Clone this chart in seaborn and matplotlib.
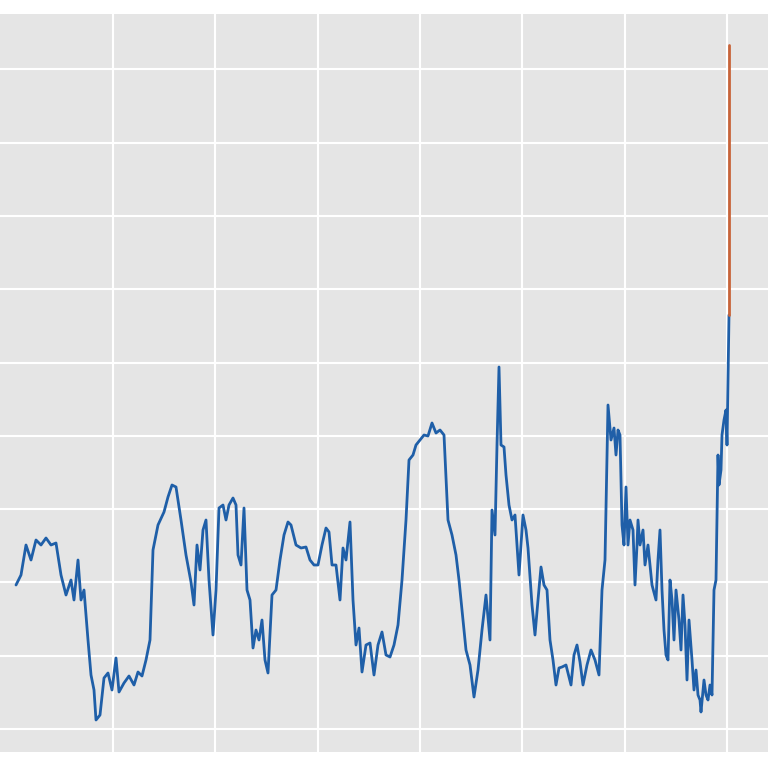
import matplotlib
matplotlib.use("Agg")
import matplotlib.pyplot as plt
import seaborn as sns
import pandas as pd

# traced series as (x_pixel_pos, y_pixel_pos) pairs
trace = [(0,585),(5,575),(10,545),(15,560),(20,540),(25,545),(30,538),(35,545),(40,543),(45,575),
(50,595),(55,580),(58,600),(62,560),(65,600),(68,590),(72,640),(75,675),(78,690),(80,720),
(84,715),(88,678),(92,673),(96,690),(100,658),(103,692),(108,683),(113,676),(118,685),(122,672),
(126,676),(130,660),(134,640),(137,550),(142,525),(148,512),(152,497),(156,485),(160,487),(165,520),
(170,555),(175,582),(178,605),(181,545),(184,570),(187,530),(190,520),(193,580),(197,635),(200,590),
(203,508),(207,505),(210,520),(213,505),(217,498),(220,505),(222,555),(225,565),(228,508),(231,590),
(234,600),(237,648),(240,630),(243,640),(246,620),(249,660),(252,673),(256,595),(260,590),(264,560),
(268,535),(272,522),(275,525),(280,545),(285,548),(290,547),(294,560),(298,565),(302,565),(306,545),
(310,528),(313,532),(316,565),(320,565),(324,600),(327,548),(330,560),(334,522),(337,600),(340,645),
(343,628),(346,672),(350,645),(354,643),(358,675),(362,645),(366,632),(370,655),(374,657),(378,645),
(382,625),(386,580),(390,520),(393,460),(397,455),(400,445),(404,440),(408,435),(412,436),(416,423),
(420,433),(424,430),(428,435),(432,520),(436,535),(440,555),(443,580),(446,610),(450,650),(454,665),
(458,697),(462,670),(466,630),(470,595),(474,640),(476,510),(479,535),(481,445),(483,367),(485,445),
(488,447),(490,475),(493,505),(496,520),(499,515),(503,575),(507,515),(510,530),(512,548),(516,605),
(519,635),(522,600),(525,567),(528,585),(531,590),(534,640),(537,660),(540,685),(543,668),(546,667),
(550,665),(555,685),(558,655),(561,645),(564,662),(567,685),(571,665),(575,650),(579,660),(583,675),
(586,590),(589,560),(592,405),(595,440),(598,428),(600,455),(602,430),(604,435),(606,525),(608,545),
(610,487),(612,545),(614,520),(617,530),(619,585),(621,545),(622,520),(624,545),(627,530),(629,565),
(632,545),(636,585),(640,600),(642,560),(644,530),(646,590),(648,630),(650,655),(652,660),(654,580),
(656,600),(658,640),(660,590),(663,620),(665,650),(667,595),(669,625),(671,680),(673,620),(676,660),
(678,690),(680,670),(682,695),(684,700),(685,712),(687,690),(688,680),(690,695),(692,700),(694,685),
(696,695),(698,590),(700,580),(702,455),(703,485),(705,470),(706,435),(708,420),(710,410),(711,445),
(713,315)]
spike_top = 45

px = [p for p, _ in trace]
py = [q for _, q in trace]
x = [(p + 16 - 113) / 102.3 for p in px]
y = [(729 - q) / 73.3 for q in py]
spike_x = [x[-1], x[-1]]
spike_y = [y[-1], (729 - spike_top) / 73.3]

df = pd.DataFrame({"x": x, "y": y})
sns.set_style("darkgrid", {"axes.facecolor": "#e5e5e5", "grid.color": "white"})
fig = plt.figure(figsize=(7.68, 7.68), dpi=100)
ax = fig.add_axes([0, 1 - 752/768, 1, 738/768])
sns.lineplot(data=df, x="x", y="y", ax=ax, color="#1f5fa8", lw=2, sort=False)
ax.plot(spike_x, spike_y, color="#c8643a", lw=2)
ax.set_xlim(-113/102.3, (768-113)/102.3)
ax.set_ylim((729-752)/73.3, (729-14)/73.3)
ax.set_xticks(range(0, 7))
ax.set_yticks(range(0, 10))
ax.grid(True, color="white", lw=1.5)
ax.set_xticklabels([]); ax.set_yticklabels([])
ax.set_xlabel(""); ax.set_ylabel("")
ax.tick_params(length=0)
for s in ax.spines.values():
    s.set_visible(False)
fig.savefig("out.png", dpi=100)
